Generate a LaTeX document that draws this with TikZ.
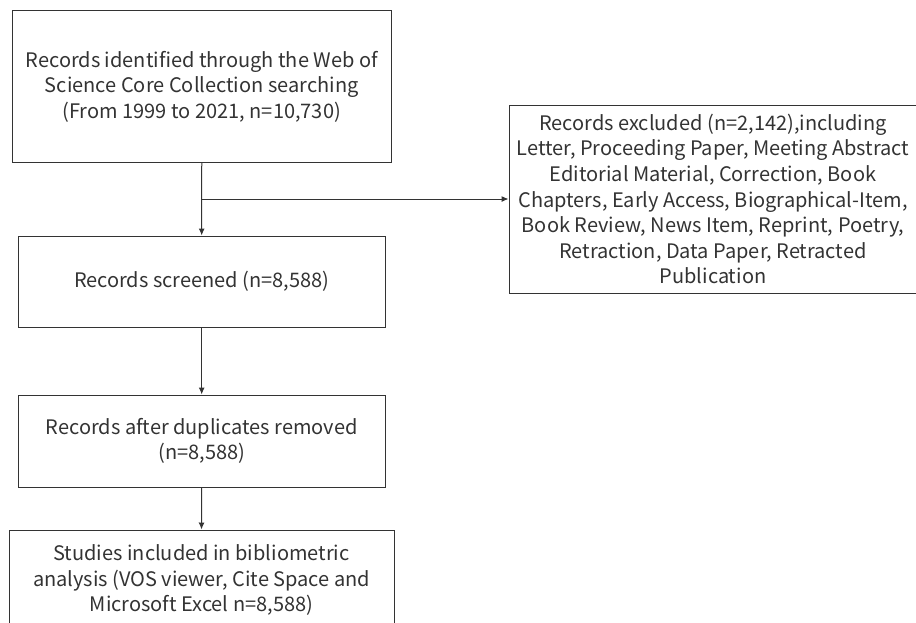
\documentclass[tikz,border=0pt]{standalone}
\usepackage{fontspec}
\setmainfont{Noto Sans CJK SC}
\usetikzlibrary{arrows.meta}
\definecolor{ink}{HTML}{333333}
\tikzset{
  box/.style={draw=ink, line width=1pt, text=ink, align=center, inner sep=0pt,
    font=\fontsize{20}{25.6}\selectfont},
  conn/.style={draw=ink, line width=1pt, -{Latex[length=7pt,width=6pt]}},
  plain/.style={draw=ink, line width=1pt}
}
\begin{document}
\begin{tikzpicture}[x=1pt,y=-1pt]
\useasboundingbox (0,0) rectangle (916,622);
\node[box, minimum width=378.5pt, minimum height=152pt] (id) at (201.75,86.5)
  {Records identified through the Web of\\Science Core Collection searching\\(From 1999 to 2021, n=10,730)};
\node[box, minimum width=366.7pt, minimum height=91pt] (sc) at (201.7,281.5)
  {Records screened (n=8,588)};
\node[box, minimum width=366.7pt, minimum height=92pt] (dup) at (201.7,441)
  {Records after duplicates removed\\(n=8,588)};
\node[box, minimum width=385pt, minimum height=100pt] (inc) at (201.5,580)
  {Studies included in bibliometric\\analysis (VOS viewer, Cite Space and\\Microsoft Excel n=8,588)};
\node[box, minimum width=408pt, minimum height=188pt] (ex) at (713,199)
  {Records excluded (n=2,142),including\\Letter, Proceeding Paper, Meeting Abstract\\Editorial Material, Correction, Book\\Chapters, Early Access, Biographical-Item,\\Book Review, News Item, Reprint, Poetry,\\Retraction, Data Paper, Retracted\\Publication};
\coordinate (br) at (id.south |- ex.west);
\draw[conn] (id.south) -- (sc.north);
\draw[conn] (br) -- (ex.west);
\draw[conn] (sc.south) -- (dup.north);
\draw[conn] (dup.south) -- (inc.north);
\end{tikzpicture}
\end{document}
